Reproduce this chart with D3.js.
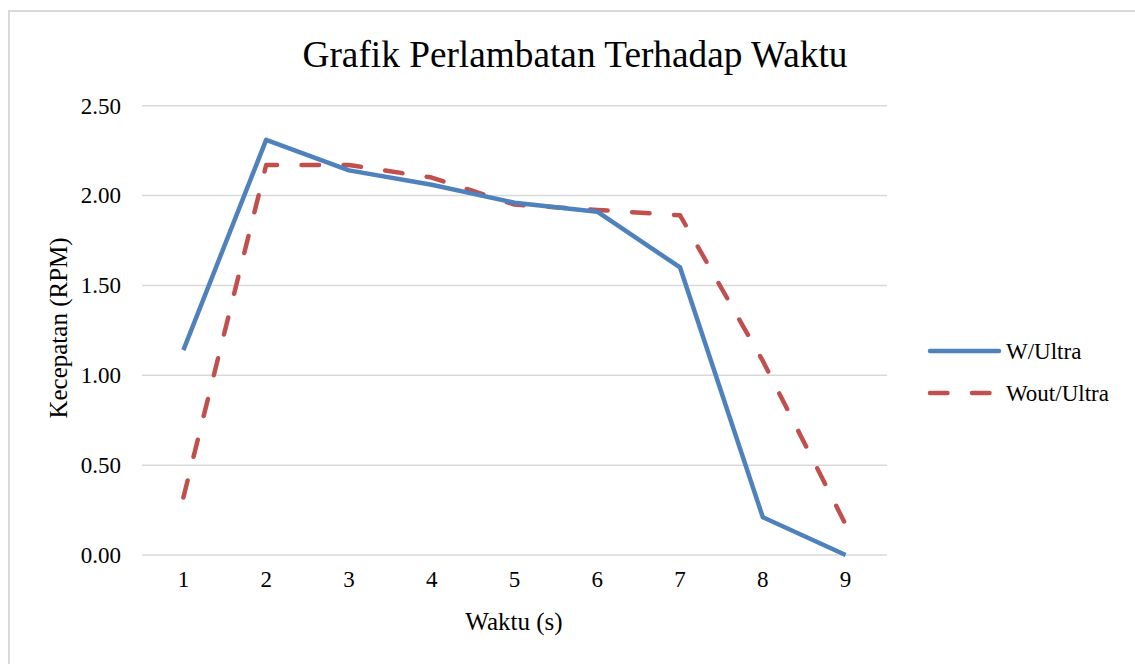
<!DOCTYPE html>
<html>
<head>
<meta charset="utf-8">
<script src="https://cdn.jsdelivr.net/npm/d3@7"></script>
<style>
  body { margin: 0; background: #fff; }
  svg text { font-family: "Liberation Serif", "Times New Roman", serif; fill: #000; }
</style>
</head>
<body>
<script>
var waktu = ["1", "2", "3", "4", "5", "6", "7", "8", "9"];
var wUltra = [1.14, 2.31, 2.14, 2.06, 1.96, 1.91, 1.60, 0.21, 0.00];
var woutUltra = [0.32, 2.17, 2.17, 2.10, 1.95, 1.92, 1.89, 1.08, 0.17];
var yTicks = [0, 0.5, 1, 1.5, 2, 2.5];
var seriesNames = ["W/Ultra", "Wout/Ultra"];

var w = 1135,
    h = 664;

var svg = d3.select("body")
    .append("svg")
    .attr("width", w)
    .attr("height", h);

// chart border (only top and left are visible in the picture)
svg.append("rect")
    .attr("x", 9)
    .attr("y", 11)
    .attr("width", 1140)
    .attr("height", 670)
    .style("fill", "none")
    .style("stroke", "#d9d9d9")
    .style("stroke-width", 2);

var x = d3.scaleBand()
    .domain(waktu)
    .range([142, 887]);

var y = d3.scaleLinear()
    .domain([0, 2.5])
    .range([555, 105.7]);

// gridlines
svg.append("g")
    .selectAll("line")
    .data(yTicks)
    .enter()
    .append("line")
    .attr("x1", 142)
    .attr("x2", 887)
    .attr("y1", function(d) { return y(d); })
    .attr("y2", function(d) { return y(d); })
    .style("stroke", "#d9d9d9")
    .style("stroke-width", 1.5);

// y axis labels
var yAxis = d3.axisLeft(y)
    .tickValues(yTicks)
    .tickSize(0)
    .tickPadding(21)
    .tickFormat(d3.format(".2f"));

var gy = svg.append("g")
    .attr("transform", "translate(142,0)")
    .call(yAxis)
    .attr("font-family", null);
gy.select(".domain").remove();
gy.selectAll("text")
    .style("font-size", "23px");

// x axis labels
var xAxis = d3.axisBottom(x)
    .tickSize(0)
    .tickPadding(16);

var gx = svg.append("g")
    .attr("transform", "translate(0,555)")
    .call(xAxis)
    .attr("font-family", null);
gx.select(".domain").remove();
gx.selectAll("text")
    .style("font-size", "23px");

var line = d3.line()
    .x(function(d, i) { return x(waktu[i]) + x.bandwidth() / 2; })
    .y(function(d) { return y(d); });

svg.append("path")
    .datum(woutUltra)
    .attr("d", line)
    .style("fill", "none")
    .style("stroke", "#c0504d")
    .style("stroke-width", 4.5)
    .style("stroke-linecap", "round")
    .style("stroke-linejoin", "round")
    .style("stroke-dasharray", "17.5,24.5");

svg.append("path")
    .datum(wUltra)
    .attr("d", line)
    .style("fill", "none")
    .style("stroke", "#4f81bd")
    .style("stroke-width", 4.5)
    .style("stroke-linejoin", "round");

// title
svg.append("text")
    .attr("x", 575)
    .attr("y", 67)
    .attr("text-anchor", "middle")
    .style("font-size", "37.3px")
    .text("Grafik Perlambatan Terhadap Waktu");

// axis titles
svg.append("text")
    .attr("x", 514)
    .attr("y", 630)
    .attr("text-anchor", "middle")
    .style("font-size", "25px")
    .text("Waktu (s)");

svg.append("text")
    .attr("transform", "translate(67,328) rotate(-90)")
    .attr("text-anchor", "middle")
    .style("font-size", "25px")
    .text("Kecepatan (RPM)");

// legend
var legendColors = ["#4f81bd", "#c0504d"];
var legendDash = ["none", "17.5,24.5"];

var legend = svg.append("g")
    .selectAll("g")
    .data(seriesNames)
    .enter()
    .append("g")
    .attr("transform", function(d, i) { return "translate(930," + (351 + i * 42) + ")"; });

legend.append("line")
    .attr("x1", 0)
    .attr("x2", 69)
    .style("stroke", function(d, i) { return legendColors[i]; })
    .style("stroke-width", 4.5)
    .style("stroke-linecap", "round")
    .style("stroke-dasharray", function(d, i) { return legendDash[i]; });

legend.append("text")
    .attr("x", 76)
    .attr("y", 8)
    .style("font-size", "23px")
    .text(function(d) { return d; });
</script>
</body>
</html>
